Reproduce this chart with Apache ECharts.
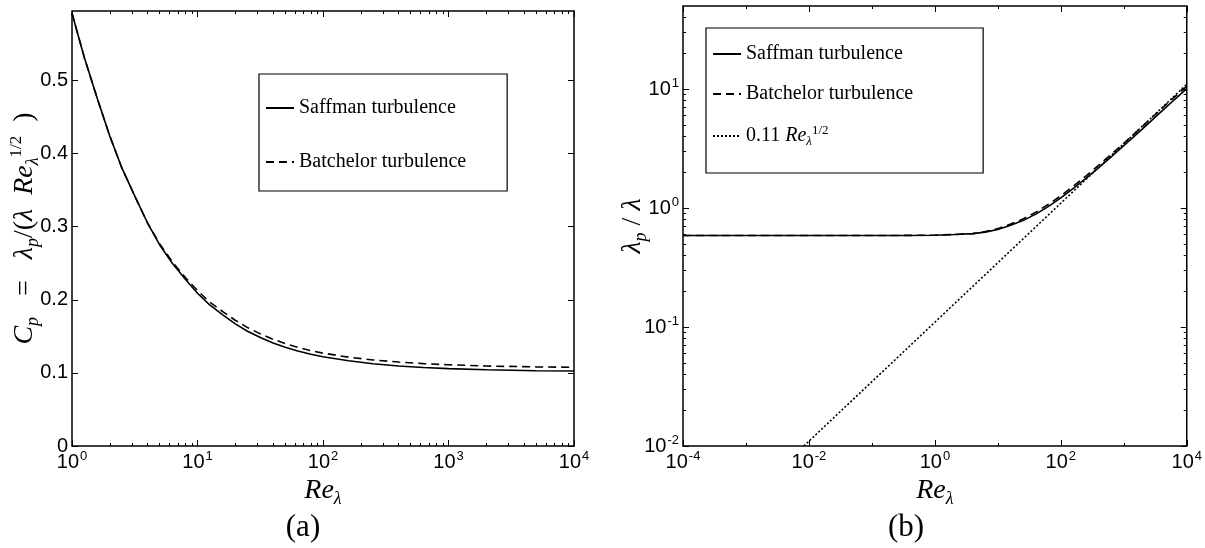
<!DOCTYPE html>
<html>
<head>
<meta charset="utf-8">
<script src="https://cdn.jsdelivr.net/npm/echarts@6/dist/echarts.min.js"></script>
<style>
  html, body { margin: 0; padding: 0; background: #fff; }
  #main { width: 1205px; height: 548px; }
</style>
</head>
<body>
<div id="main"></div>
<script>
  // panel (a): C_p against Re_lambda
  var reA = [1, 1.25, 1.6, 2, 2.5, 3.2, 4, 5, 6.3, 8, 10, 12.5, 16, 20, 25, 32, 40, 50, 63, 80, 100, 160, 250, 400, 630, 1000, 2000, 5000, 10000];
  var saffmanCp = [0.592, 0.532, 0.474, 0.424, 0.380, 0.340, 0.305, 0.275, 0.250, 0.228, 0.209, 0.193, 0.179, 0.167, 0.157, 0.148, 0.141, 0.135, 0.130, 0.1255, 0.122, 0.1165, 0.1125, 0.1095, 0.1073, 0.1058, 0.1042, 0.1030, 0.1025];
  var batchelorCp = [0.592, 0.532, 0.474, 0.424, 0.380, 0.340, 0.305, 0.2765, 0.252, 0.2305, 0.2125, 0.197, 0.1835, 0.172, 0.162, 0.153, 0.146, 0.140, 0.135, 0.1305, 0.127, 0.1215, 0.1177, 0.1148, 0.1127, 0.1111, 0.1094, 0.1082, 0.1077];

  // panel (b): lambda_p / lambda against Re_lambda
  var reB = [1e-4, 1e-3, 1e-2, 0.1, 0.3, 1, 2, 4, 6.3, 10, 16, 25, 40, 63, 100, 160, 250, 400, 630, 1000, 2000, 5000, 10000];
  var saffmanRatio = [0.589, 0.589, 0.589, 0.589, 0.589, 0.592, 0.599, 0.61, 0.628, 0.661, 0.716, 0.785, 0.89, 1.03, 1.22, 1.47, 1.78, 2.19, 2.69, 3.35, 4.66, 7.28, 10.1];
  var batchelorRatio = [0.589, 0.589, 0.589, 0.589, 0.589, 0.592, 0.599, 0.61, 0.634, 0.672, 0.734, 0.81, 0.923, 1.072, 1.27, 1.537, 1.86, 2.296, 2.83, 3.51, 4.89, 7.65, 10.6];
  var fitRe = [0.0083, 10000];
  var fitRatio = [0.01, 11];

  // ticks
  var xTicksA = [1, 10, 100, 1000, 10000];
  var yTicksA = [0, 0.1, 0.2, 0.3, 0.4, 0.5];
  var xTicksB = [1e-4, 1e-2, 1, 100, 10000];
  var xMinorB = [1e-3, 1e-1, 10, 1000];
  var yTicksB = [0.01, 0.1, 1, 10];

  function pairs(xs, ys) {
    return xs.map(function (x, i) { return [x, ys[i]]; });
  }

  // 2..9 inside every decade
  function minorLog(lo, hi) {
    var out = [];
    for (var e = Math.floor(Math.log10(lo)); e <= Math.ceil(Math.log10(hi)); e++) {
      for (var m = 2; m <= 9; m++) {
        var v = m * Math.pow(10, e);
        if (v > lo && v < hi) out.push(v);
      }
    }
    return out;
  }

  function pow10(v) {
    var e = Math.round(Math.log10(v));
    return '{b|10}{e|' + e + '}';
  }

  var tickRich = {
    b: { fontSize: 20, fontFamily: 'Liberation Sans', color: '#000', lineHeight: 24 },
    e: { fontSize: 13, fontFamily: 'Liberation Sans', color: '#000', verticalAlign: 'top', lineHeight: 13, padding: [0, 0, 0, 1] }
  };
  var mathRich = {
    i: { fontSize: 28, fontFamily: 'Liberation Serif', fontStyle: 'italic', color: '#000', lineHeight: 34 },
    r: { fontSize: 28, fontFamily: 'Liberation Serif', color: '#000', lineHeight: 34 },
    s: { fontSize: 18, fontFamily: 'Liberation Serif', fontStyle: 'italic', color: '#000', verticalAlign: 'bottom', lineHeight: 17 },
    p: { fontSize: 17, fontFamily: 'Liberation Serif', color: '#000', verticalAlign: 'top', lineHeight: 16 }
  };

  // one axis side: major ticks + labels, then minor ticks, mirrored on the other side
  function axisSide(grid, dim, type, min, max, major, minor, fmt, name, nameGap, nameRotate) {
    var pos = dim === 'x' ? ['bottom', 'top'] : ['left', 'right'];
    var list = [];
    pos.forEach(function (p, k) {
      list.push({
        type: type, gridIndex: grid, position: p, min: min, max: max,
        axisLine: { show: false },
        splitLine: { show: false },
        axisTick: { show: true, inside: true, length: 6, customValues: major, lineStyle: { color: '#000', width: 1 } },
        axisLabel: {
          show: k === 0, customValues: major, formatter: fmt, rich: tickRich,
          color: '#000', fontSize: 20, fontFamily: 'Liberation Sans', margin: 4
        },
        name: k === 0 ? name : '',
        nameLocation: 'middle', nameGap: nameGap, nameRotate: nameRotate, nameMoveOverlap: false,
        nameTextStyle: { fontSize: 28, fontFamily: 'Liberation Serif', color: '#000', rich: mathRich }
      });
      if (minor.length) {
        list.push({
          type: type, gridIndex: grid, position: p, min: min, max: max,
          axisLine: { show: false }, splitLine: { show: false },
          axisTick: { show: true, inside: true, length: 3, customValues: minor, lineStyle: { color: '#000', width: 1 } },
          axisLabel: { show: false }
        });
      }
    });
    return list;
  }

  var xAxes = [].concat(
    axisSide(0, 'x', 'log', 1, 10000, xTicksA, minorLog(1, 10000), pow10, '{i|Re}{s|λ}', 28, 0),
    axisSide(1, 'x', 'log', 1e-4, 10000, xTicksB, xMinorB, pow10, '{i|Re}{s|λ}', 28, 0)
  );
  var leftIdxB = xAxes.length - 4;
  var yAxes = [].concat(
    axisSide(0, 'y', 'value', 0, 0.595, yTicksA, [], function (v) { return String(v); },
      '{i|C}{s|p}{r|   =   }{i|λ}{s|p}{r|/(}{i|λ  Re}{s|λ}{p|1/2}{r|  )}', 30, 90),
    axisSide(1, 'y', 'log', 0.01, 50, yTicksB, minorLog(0.01, 50), pow10, '{i|λ}{s|p}{r| / }{i|λ}', 33, 90)
  );

  function curve(name, data, xi, yi, dash) {
    return {
      type: 'line', name: name, data: data, xAxisIndex: xi, yAxisIndex: yi,
      symbol: 'none', showSymbol: false, silent: true,
      itemStyle: { color: '#000' },
      lineStyle: { color: '#000', width: 1.6, type: dash }
    };
  }

  var legendBase = {
    orient: 'vertical', itemWidth: 28, itemHeight: 14, itemTextGap: 4,
    borderColor: '#000', borderWidth: 1.2, backgroundColor: '#fff',
    selectedMode: false,
    itemStyle: { opacity: 0 }
  };

  var chart = echarts.init(document.getElementById('main'));
  chart.setOption({
    animation: false,
    backgroundColor: '#fff',
    grid: [
      { left: 72, top: 11, width: 502, height: 435, show: true, borderColor: '#000', borderWidth: 1.5, containLabel: false },
      { left: 683, top: 6, width: 505, height: 440, show: true, borderColor: '#000', borderWidth: 1.5, containLabel: false }
    ],
    xAxis: xAxes,
    yAxis: yAxes,
    legend: [
      Object.assign({}, legendBase, {
        data: ['Saffman turbulence', 'Batchelor turbulence'],
        left: 259, top: 74, padding: [24, 41, 19, 6], itemGap: 34,
        textStyle: { fontFamily: 'Liberation Serif', fontSize: 20, color: '#000' }
      }),
      Object.assign({}, legendBase, {
        data: ['Saffman turbulence', 'Batchelor turbulence', 'fit'],
        left: 706, top: 28, padding: [16, 70, 25, 6], itemGap: 20,
        formatter: function (n) {
          return n === 'fit' ? '0.11 {i|Re}{s|λ}{p|1/2}' : n;
        },
        textStyle: {
          fontFamily: 'Liberation Serif', fontSize: 20, color: '#000',
          rich: {
            i: { fontSize: 20, fontFamily: 'Liberation Serif', fontStyle: 'italic', color: '#000', lineHeight: 24 },
            s: { fontSize: 13, fontFamily: 'Liberation Serif', fontStyle: 'italic', color: '#000', verticalAlign: 'bottom', lineHeight: 13 },
            p: { fontSize: 13, fontFamily: 'Liberation Serif', color: '#000', verticalAlign: 'top', lineHeight: 13 }
          }
        }
      })
    ],
    graphic: [
      { type: 'text', x: 303, y: 528, style: { text: '(a)', font: '31px "Liberation Serif"', fill: '#000', textAlign: 'center', textVerticalAlign: 'middle' } },
      { type: 'text', x: 906, y: 528, style: { text: '(b)', font: '31px "Liberation Serif"', fill: '#000', textAlign: 'center', textVerticalAlign: 'middle' } }
    ],
    series: [
      curve('Saffman turbulence', pairs(reA, saffmanCp), 0, 0, 'solid'),
      curve('Batchelor turbulence', pairs(reA, batchelorCp), 0, 0, [8, 5]),
      curve('Saffman turbulence', pairs(reB, saffmanRatio), leftIdxB, 2, 'solid'),
      curve('Batchelor turbulence', pairs(reB, batchelorRatio), leftIdxB, 2, [8, 5]),
      curve('fit', pairs(fitRe, fitRatio), leftIdxB, 2, [2, 2])
    ]
  });
</script>
</body>
</html>
